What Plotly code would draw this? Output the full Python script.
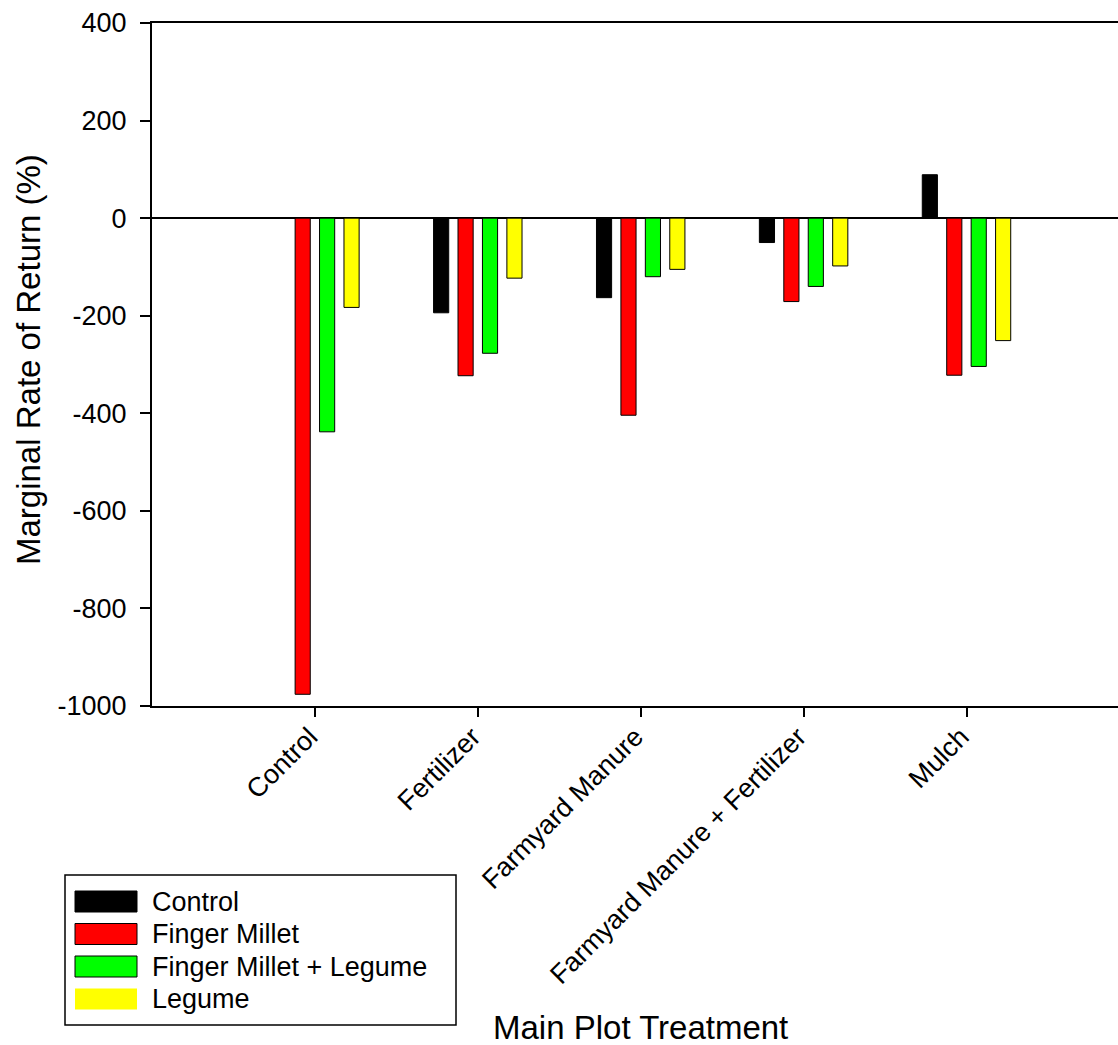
import plotly.graph_objects as go

# ---- data ----
categories = ["Control", "Fertilizer", "Farmyard Manure", "Farmyard Manure + Fertilizer", "Mulch"]
series_names = ["Control", "Finger Millet", "Finger Millet + Legume", "Legume"]
control_vals = [0, -194, -163, -50, 89]
finger_millet_vals = [-976, -323, -404, -171, -322]
fm_legume_vals = [-438, -277, -120, -140, -304]
legume_vals = [-183, -123, -105, -98, -251]
y_ticks = [-1000, -800, -600, -400, -200, 0, 200, 400]
y_tick_labels = ["-1000", "-800", "-600", "-400", "-200", "0", "200", "400"]

series_values = [control_vals, finger_millet_vals, fm_legume_vals, legume_vals]
colors = ["#000000", "#FF0000", "#00FF00", "#FFFF00"]
legend_border = [1, 1, 1, 0]

FONT = "Arial, Liberation Sans, sans-serif"
W, H = 1118, 1045
ML, MR, MT, MB = 152, 0, 23, 339
PW, PH = W - ML - MR, H - MT - MB


def xp(px):
    return (px - ML) / PW


def yp(py):
    return (H - MB - py) / PH


fig = go.Figure()
for name, vals, col in zip(series_names, series_values, colors):
    fig.add_trace(go.Bar(
        x=list(range(len(categories))), y=vals, name=name,
        marker=dict(color=col, line=dict(color="black", width=1)),
        showlegend=False,
    ))

# manual legend (box, swatches, labels)
shapes = [dict(type="rect", xref="paper", yref="paper",
               x0=xp(65), x1=xp(456), y0=yp(1025), y1=yp(875),
               line=dict(color="black", width=1.5), fillcolor="white")]
annotations = []
row_centers = [901.5, 934, 966.5, 999]
for name, col, lw, cy in zip(series_names, colors, legend_border, row_centers):
    shapes.append(dict(type="rect", xref="paper", yref="paper",
                       x0=xp(75), x1=xp(137), y0=yp(cy + 10.5), y1=yp(cy - 10.5),
                       line=dict(color="black", width=lw), fillcolor=col))
    annotations.append(dict(xref="paper", yref="paper", x=xp(150), y=yp(cy),
                            text=name, showarrow=False, xanchor="left", yanchor="middle",
                            font=dict(family=FONT, size=27, color="black")))

# axis titles
annotations.append(dict(xref="paper", yref="paper", x=xp(640), y=yp(1027),
                        text="Main Plot Treatment", showarrow=False,
                        xanchor="center", yanchor="middle",
                        font=dict(family=FONT, size=33, color="black")))
annotations.append(dict(xref="paper", yref="paper", x=xp(28), y=yp(360),
                        text="Marginal Rate of Return (%)", showarrow=False,
                        textangle=-90, xanchor="center", yanchor="middle",
                        font=dict(family=FONT, size=33, color="black")))

fig.update_layout(
    width=W, height=H,
    margin=dict(l=ML, r=MR, t=MT, b=MB),
    plot_bgcolor="white", paper_bgcolor="white",
    barmode="group", bargap=0.4, bargroupgap=0.38,
    font=dict(family=FONT, size=27, color="black"),
    shapes=shapes, annotations=annotations,
    showlegend=False,
)
fig.update_xaxes(
    range=[-1, 4.93], tickmode="array", tickvals=list(range(len(categories))),
    ticktext=[c + "\u00a0" for c in categories], tickangle=-45, ticks="outside",
    ticklen=9, tickwidth=1.5,
    tickcolor="black", showline=True, linecolor="black", linewidth=2, mirror=True,
    showgrid=False, zeroline=False, ticklabelstandoff=-12,
    tickfont=dict(family=FONT, size=27, color="black"),
)
fig.update_yaxes(
    range=[-1000, 400], tickmode="array", tickvals=y_ticks, ticktext=y_tick_labels,
    ticks="outside", ticklen=10, tickwidth=1.5, tickcolor="black",
    showline=True, linecolor="black", linewidth=2, mirror=False,
    showgrid=False, zeroline=True, zerolinecolor="black", zerolinewidth=1.5,
    ticklabelstandoff=8, tickfont=dict(family=FONT, size=27, color="black"),
)

fig.write_html("out.html")
